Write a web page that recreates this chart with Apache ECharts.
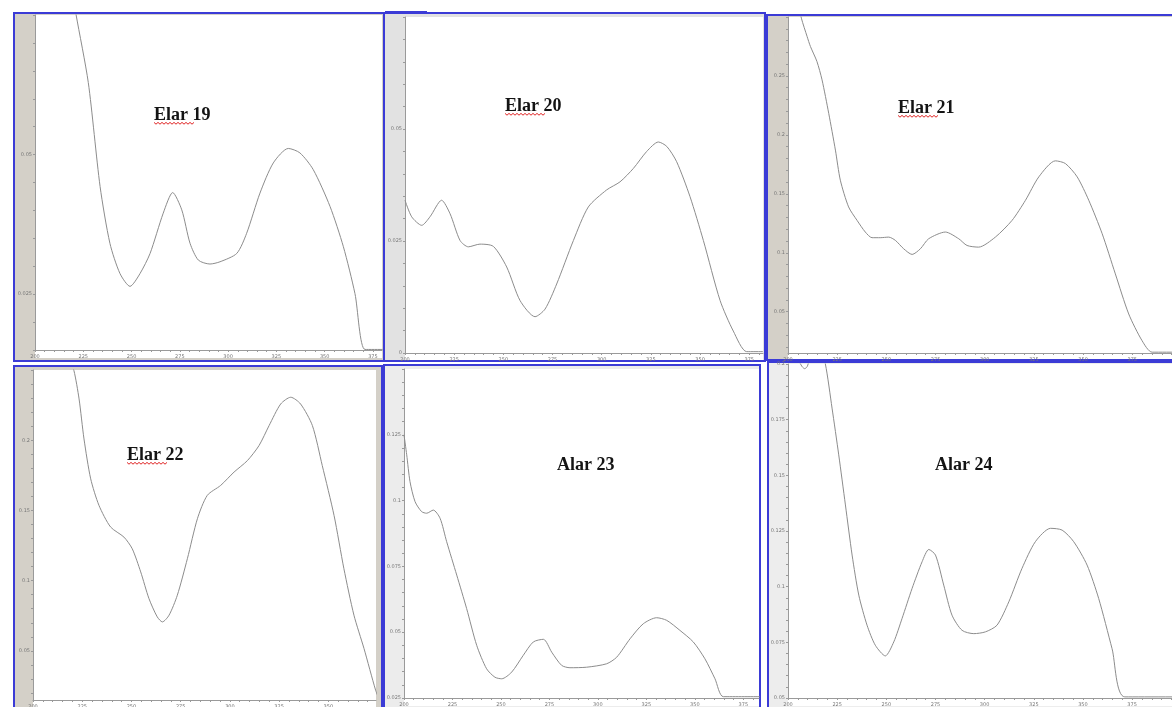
<!DOCTYPE html>
<html>
<head>
<meta charset="utf-8">
<script src="https://cdn.jsdelivr.net/npm/echarts@6.0.0/dist/echarts.min.js"></script>
<style>
  html, body { margin: 0; padding: 0; background: #fff; }
  #chart { width: 1172px; height: 707px; }
</style>
</head>
<body>
<div id="chart"></div>
<script>
// wavelength (nm) tick labels shared by all panels
const xTickLabels = [200, 225, 250, 275, 300, 325, 350, 375];

// Elar 19
const wl19 = [215, 221.2, 227.6, 233.7, 238.8, 244.0, 249.2, 254.4, 259.6, 266.4, 271.3, 276.0, 280.3, 284.6, 290.6, 295.8, 304.5, 309.6, 316.5, 323.4, 331.2, 337.2, 344.1, 352.8, 359.7, 365.7, 370.9, 380];
const abs19 = [0.088, 0.0752, 0.0629, 0.0443, 0.0341, 0.0287, 0.0264, 0.0287, 0.0323, 0.0395, 0.0432, 0.0401, 0.0341, 0.0311, 0.0304, 0.0308, 0.0323, 0.0359, 0.0431, 0.0485, 0.0511, 0.0503, 0.0473, 0.0407, 0.0335, 0.0251, 0.0151, 0.0151];
const yLabels19 = [0.025, 0.05];

// Elar 20
const wl20 = [200, 203.4, 208.5, 212.7, 218.6, 222.9, 228.0, 232.2, 238.1, 244.9, 251.7, 258.5, 266.1, 271.2, 277.1, 285.6, 293.2, 302.5, 309.3, 316.1, 322.9, 328.8, 333.1, 338.1, 344.9, 351.7, 360.2, 366.9, 373.7, 382];
const abs20 = [0.0341, 0.0304, 0.0285, 0.0304, 0.0341, 0.0311, 0.0251, 0.0237, 0.0243, 0.0238, 0.0192, 0.0117, 0.0081, 0.0098, 0.0154, 0.0251, 0.0326, 0.0364, 0.0382, 0.0412, 0.0450, 0.0471, 0.0461, 0.0427, 0.0349, 0.0251, 0.0117, 0.0049, 0.0003, 0.0003];
const yLabels20 = [0, 0.025, 0.05];

// Elar 21
const wl21 = [204, 206.8, 209.7, 211.4, 214.7, 217.3, 220.7, 224.1, 226.6, 230.8, 235.1, 239.3, 242.7, 246.9, 251.2, 254.6, 258.8, 263.1, 267.3, 271.5, 280.0, 286.8, 291.0, 296.9, 305.4, 313.9, 320.7, 327.5, 335.9, 341.0, 347.0, 352.9, 359.7, 366.4, 373.2, 380.0, 385.1, 414];
const abs21 = [0.32, 0.299, 0.2835, 0.275, 0.2623, 0.2467, 0.2183, 0.1871, 0.1616, 0.1389, 0.1275, 0.1176, 0.1128, 0.1128, 0.1133, 0.1105, 0.1034, 0.0986, 0.1034, 0.1119, 0.1176, 0.1119, 0.1062, 0.1048, 0.1133, 0.1275, 0.1445, 0.1644, 0.178, 0.1757, 0.1644, 0.1445, 0.1162, 0.0821, 0.0481, 0.0254, 0.0157, 0.0157];
const yLabels21 = [0.05, 0.1, 0.15, 0.2, 0.25];

// Elar 22
const wl22 = [218, 220.8, 223.4, 225.9, 229.3, 233.5, 239.4, 246.2, 250.4, 254.7, 258.9, 263.1, 265.7, 269.1, 273.3, 278.4, 283.5, 288.5, 295.3, 302.1, 308.9, 314.8, 319.9, 325.8, 330.9, 335.9, 341.9, 346.9, 352.9, 357.9, 363.0, 368.1, 374.0, 376];
const abs22 = [0.26, 0.2495, 0.2294, 0.2009, 0.1725, 0.1536, 0.1382, 0.131, 0.1227, 0.1062, 0.0872, 0.0742, 0.0706, 0.0754, 0.0896, 0.1156, 0.1441, 0.1607, 0.1678, 0.1773, 0.1855, 0.1962, 0.2104, 0.2258, 0.2306, 0.2258, 0.2104, 0.182, 0.1464, 0.1085, 0.0754, 0.0517, 0.022, 0.015];
const yLabels22 = [0.05, 0.1, 0.15, 0.2];

// Alar 23
const wl23 = [200, 201.4, 203.1, 205.7, 209.1, 211.7, 215.1, 218.6, 222.0, 227.2, 232.3, 237.5, 242.6, 246.9, 250.4, 255.5, 261.5, 266.7, 271.9, 276.2, 281.3, 285.6, 294.2, 304.5, 309.7, 316.6, 323.4, 330.3, 335.5, 342.3, 349.2, 355.2, 360.4, 364.7, 384];
const abs23 = [0.125, 0.1174, 0.1072, 0.0996, 0.0958, 0.0952, 0.0964, 0.0933, 0.0844, 0.0717, 0.059, 0.045, 0.0361, 0.0329, 0.0323, 0.0348, 0.0412, 0.0463, 0.0473, 0.0424, 0.0374, 0.0365, 0.0367, 0.038, 0.0405, 0.0475, 0.0532, 0.0555, 0.0545, 0.0507, 0.0463, 0.0399, 0.0323, 0.0255, 0.0255];
const yLabels23 = [0.025, 0.05, 0.075, 0.1, 0.125];

// Alar 24
const wl24 = [200, 204, 207.1, 208.5, 209.8, 212.2, 216.4, 219.0, 222.4, 225.8, 229.2, 232.6, 236.0, 240.2, 244.4, 249.5, 253.8, 258.0, 263.1, 268.2, 271.6, 275.0, 279.2, 283.4, 288.5, 294.5, 300.4, 306.3, 312.3, 319.0, 325.8, 333.5, 339.4, 345.3, 352.1, 358.0, 364.8, 371.3, 414];
const abs24 = [0.21, 0.204, 0.1989, 0.1979, 0.1989, 0.205, 0.206, 0.2, 0.1802, 0.1592, 0.1367, 0.1142, 0.0962, 0.0827, 0.0737, 0.0689, 0.0752, 0.0857, 0.0992, 0.1112, 0.1167, 0.1142, 0.1007, 0.0872, 0.0804, 0.0789, 0.0797, 0.0827, 0.0932, 0.1082, 0.1202, 0.1262, 0.1254, 0.1202, 0.1097, 0.0947, 0.0722, 0.0505, 0.0505];
const yLabels24 = [0.05, 0.075, 0.1, 0.125, 0.15, 0.175, 0.2];

// layout of the six screenshot panels
const panels = [
  { title: 'Elar 19', wl: wl19, abs: abs19, yLabels: yLabels19, grid: [35, 15, 347, 335], xMax: 379.7, yMin: 0.015, yMax: 0.075,
    frame: [14, 13, 370, 348], strip: '#d4d0c8', text: [154, 115], squiggle: true },
  { title: 'Elar 20', wl: wl20, abs: abs20, yLabels: yLabels20, grid: [405, 17, 358, 336], xMax: 382, yMin: 0, yMax: 0.075,
    frame: [384, 13, 381, 348], strip: '#e2e2e2', text: [505, 106], squiggle: true },
  { title: 'Elar 21', wl: wl21, abs: abs21, yLabels: yLabels21, grid: [788, 17, 420, 336], xMax: 413.5, yMin: 0.015, yMax: 0.30,
    frame: [767, 15, 420, 345], strip: '#d4d0c8', text: [898, 108], squiggle: true },
  { title: 'Elar 22', wl: wl22, abs: abs22, yLabels: yLabels22, grid: [33, 370, 343, 330], xMax: 374.2, yMin: 0.015, yMax: 0.25,
    frame: [14, 366, 368, 350], strip: '#d4d0c8', text: [127, 455], squiggle: true },
  { title: 'Alar 23', wl: wl23, abs: abs23, yLabels: yLabels23, grid: [404, 369, 355, 329], xMax: 383.1, yMin: 0.025, yMax: 0.15,
    frame: [384, 365, 376, 350], strip: '#ececec', text: [557, 465], squiggle: false },
  { title: 'Alar 24', wl: wl24, abs: abs24, yLabels: yLabels24, grid: [788, 364, 420, 334], xMax: 413.6, yMin: 0.05, yMax: 0.2,
    frame: [768, 362, 420, 350], strip: '#ededed', text: [935, 465], squiggle: false }
];

function stepTicks(lo, hi, step) {
  const out = [];
  const start = Math.ceil(lo / step - 1e-6) * step;
  for (let v = start; v <= hi + 1e-9; v += step) out.push(+v.toFixed(5));
  return out;
}

const graphics = [];
panels.forEach(p => {
  const [fx, fy, fw, fh] = p.frame;
  const [gx, gy, gw, gh] = p.grid;
  graphics.push({ type: 'rect', z: -20, shape: { x: fx, y: fy, width: fw, height: fh },
    style: { fill: p.strip } });
  graphics.push({ type: 'rect', z: -19, shape: { x: gx, y: gy, width: gw, height: gh + 8 },
    style: { fill: '#ffffff' } });
  graphics.push({ type: 'rect', z: -18, shape: { x: fx, y: fy, width: fw, height: fh },
    style: { fill: null, stroke: '#3b3bd6', lineWidth: 2 } });
  graphics.push({ type: 'text', z: 50, x: p.text[0], y: p.text[1],
    style: { text: p.title, font: 'bold 18px "Liberation Serif", serif', fill: '#141414', textVerticalAlign: 'middle' } });
  if (p.squiggle) {
    const pts = [];
    const y = p.text[1] + 8;
    for (let i = 0; i <= 20; i++) pts.push([p.text[0] + i * 2, y + (i % 2 ? 1.2 : -0.6)]);
    graphics.push({ type: 'polyline', z: 51, shape: { points: pts }, style: { stroke: '#e02424', lineWidth: 1, fill: null } });
  }
});
// highlighted title-bar segment on the second panel
graphics.push({ type: 'rect', z: -17, shape: { x: 385, y: 11, width: 42, height: 3 }, style: { fill: '#3b3bd6' } });

const axisGray = '#9a9a9a';
const option = {
  animation: false,
  graphic: { elements: graphics },
  grid: panels.map(p => ({
    left: p.grid[0], top: p.grid[1], width: p.grid[2], height: p.grid[3],
    containLabel: false, outerBoundsMode: 'none', show: false
  })),
  xAxis: panels.map((p, i) => ({
    type: 'value', gridIndex: i, min: 200, max: p.xMax,
    axisLine: { show: true, onZero: false, lineStyle: { color: axisGray, width: 1 } },
    splitLine: { show: false },
    axisTick: { show: true, customValues: stepTicks(200, p.xMax, 5), length: 2, lineStyle: { color: axisGray } },
    axisLabel: { customValues: xTickLabels, fontSize: 5, color: '#777', margin: 4, fontFamily: 'DejaVu Sans' }
  })),
  yAxis: panels.map((p, i) => {
    const step = (p.yLabels[1] - p.yLabels[0]) / 5;
    return {
      type: 'value', gridIndex: i, min: p.yMin, max: p.yMax,
      axisLine: { show: true, onZero: false, lineStyle: { color: axisGray, width: 1 } },
      splitLine: { show: false },
      axisTick: { show: true, customValues: stepTicks(p.yMin, p.yMax, step), length: 2, lineStyle: { color: axisGray } },
      axisLabel: { customValues: p.yLabels, fontSize: 5, color: '#777', margin: 3, fontFamily: 'DejaVu Sans' }
    };
  }),
  series: panels.map((p, i) => ({
    type: 'line', name: p.title, xAxisIndex: i, yAxisIndex: i,
    data: p.wl.map((w, k) => [w, p.abs[k]]),
    showSymbol: false, smooth: 0.25, clip: true, silent: true,
    lineStyle: { color: '#8c8c8c', width: 1 }
  }))
};

const chart = echarts.init(document.getElementById('chart'));
chart.setOption(option);
</script>
</body>
</html>
